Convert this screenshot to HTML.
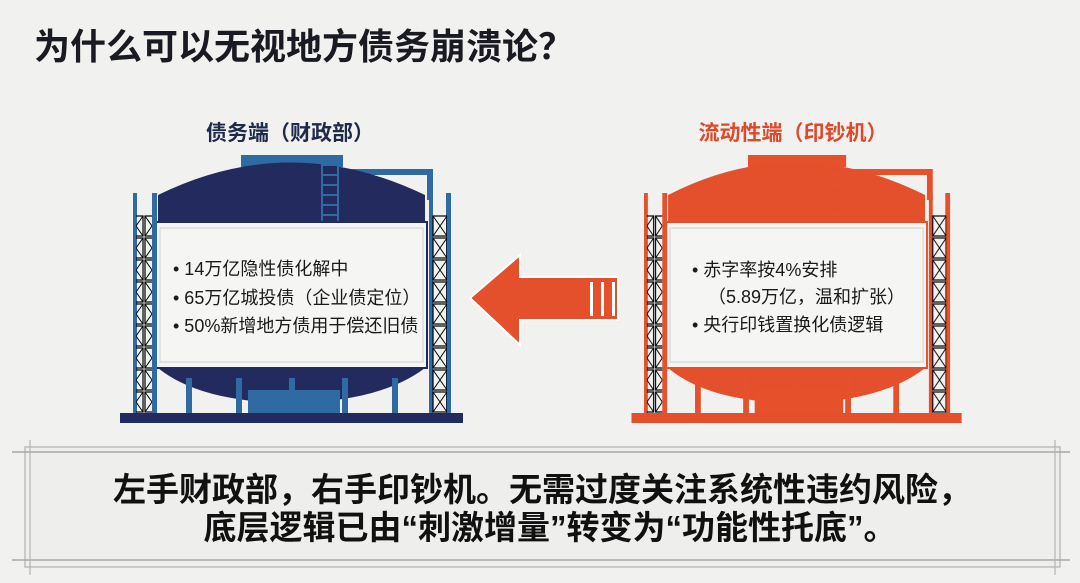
<!DOCTYPE html>
<html><head><meta charset="utf-8"><style>
body{margin:0;background:#f1f1ef;}
svg text{font-family:"Liberation Sans","Noto Sans CJK SC",sans-serif;}
</style></head><body>
<svg width="1080" height="578" viewBox="0 0 1080 578" xmlns="http://www.w3.org/2000/svg">
<defs>
<pattern id="sc" x="0" y="193" width="16" height="22" patternUnits="userSpaceOnUse">
<rect x="1" y="1" width="14" height="20" fill="none" stroke="currentColor" stroke-width="1.2"/>
<path d="M1 1L15 21M15 1L1 21" stroke="currentColor" stroke-width="1"/>
</pattern>
<g id="tank">
  <rect x="241" y="155" width="102" height="12" fill="currentColor"/>
  <path d="M343 172 H430 V200" fill="none" stroke="currentColor" stroke-width="6"/>
  <path d="M158 222 V195 Q290 130 425 195 V222 Z" fill="var(--d)"/>
  <rect x="322" y="165" width="16" height="57" fill="none" stroke="currentColor" stroke-width="2"/>
  <path d="M322 175H338M322 185H338M322 195H338M322 205H338M322 215H338" stroke="currentColor" stroke-width="2"/>
  <path d="M158 368 H425 Q380 402 290 403 Q200 402 158 368 Z" fill="var(--d)"/>
  <rect x="248" y="390" width="92" height="24" fill="currentColor"/>
  <g fill="currentColor"><rect x="186" y="378" width="6" height="36"/><rect x="236" y="378" width="6" height="36"/><rect x="289" y="378" width="6" height="36"/><rect x="342" y="378" width="6" height="36"/><rect x="392" y="378" width="6" height="36"/></g>
  <rect x="156" y="222" width="271" height="146" fill="#f5f5f3" stroke="var(--d)" stroke-width="2"/>
  <rect x="160" y="228" width="263" height="134" fill="none" stroke="#cfcfcf" stroke-width="1"/>
  <rect x="133" y="193" width="4" height="220" fill="currentColor"/>
  <rect x="152" y="193" width="5" height="220" fill="currentColor"/>
  <rect x="136" y="215" width="16" height="198" fill="url(#sc)"/>
  <rect x="429" y="193" width="4" height="220" fill="currentColor"/>
  <rect x="446" y="193" width="5" height="220" fill="currentColor"/>
  <rect x="432" y="215" width="15" height="198" fill="url(#sc)"/>
  <rect x="120" y="413" width="343" height="10" fill="var(--d)"/>
</g>
</defs>

<text x="34" y="59" font-size="36" font-weight="bold" fill="#1a1a22">为什么可以无视地方债务崩溃论？</text>

<text x="290" y="140" font-size="21" font-weight="bold" fill="#1e2a4a" text-anchor="middle">债务端（财政部）</text>
<text x="793" y="140" font-size="21" font-weight="bold" fill="#e0482a" text-anchor="middle">流动性端（印钞机）</text>

<use href="#tank" style="color:#2f6aa3;--d:#232a5e"/>
<g transform="translate(516,0) scale(0.9625,1)"><use href="#tank" style="color:#e6502b;--d:#e4502c"/></g>

<g font-size="18" fill="#1a1a1a">
<text x="173" y="275">• 14万亿隐性债化解中</text>
<text x="173" y="304">• 65万亿城投债（企业债定位）</text>
<text x="173" y="332">• 50%新增地方债用于偿还旧债</text>
<text x="692" y="276">• 赤字率按4%安排</text>
<text x="708" y="303">（5.89万亿，温和扩张）</text>
<text x="692" y="331">• 央行印钱置换化债逻辑</text>
</g>

<path d="M470 298 L520 255 V277 H618 V320 H520 V345 Z" fill="#e4502c" stroke="#fff" stroke-width="2"/>
<g fill="#fff"><rect x="590" y="282" width="3" height="34"/><rect x="601" y="282" width="3" height="34"/><rect x="612" y="282" width="3" height="34"/></g>

<rect x="25" y="447" width="1035" height="120" fill="#eeeeec" stroke="#bdbdbd" stroke-width="1.5"/>
<line x1="12" y1="452" x2="1070" y2="452" stroke="#a8a8a8" stroke-width="1.5"/>
<line x1="12" y1="560" x2="1070" y2="560" stroke="#a8a8a8" stroke-width="1.5"/>
<line x1="30" y1="440" x2="30" y2="575" stroke="#b5b5b5" stroke-width="1.2"/>
<line x1="1055" y1="440" x2="1055" y2="575" stroke="#b5b5b5" stroke-width="1.2"/>
<g font-size="33" font-weight="bold" fill="#111" text-anchor="middle" style="font-family:'Noto Sans CJK SC','Liberation Sans',sans-serif">
<text x="542" y="501">左手财政部，右手印钞机。无需过度关注系统性违约风险，</text>
<text x="550" y="539">底层逻辑已由“刺激增量”转变为“功能性托底”。</text>
</g>
</svg>
</body></html>
